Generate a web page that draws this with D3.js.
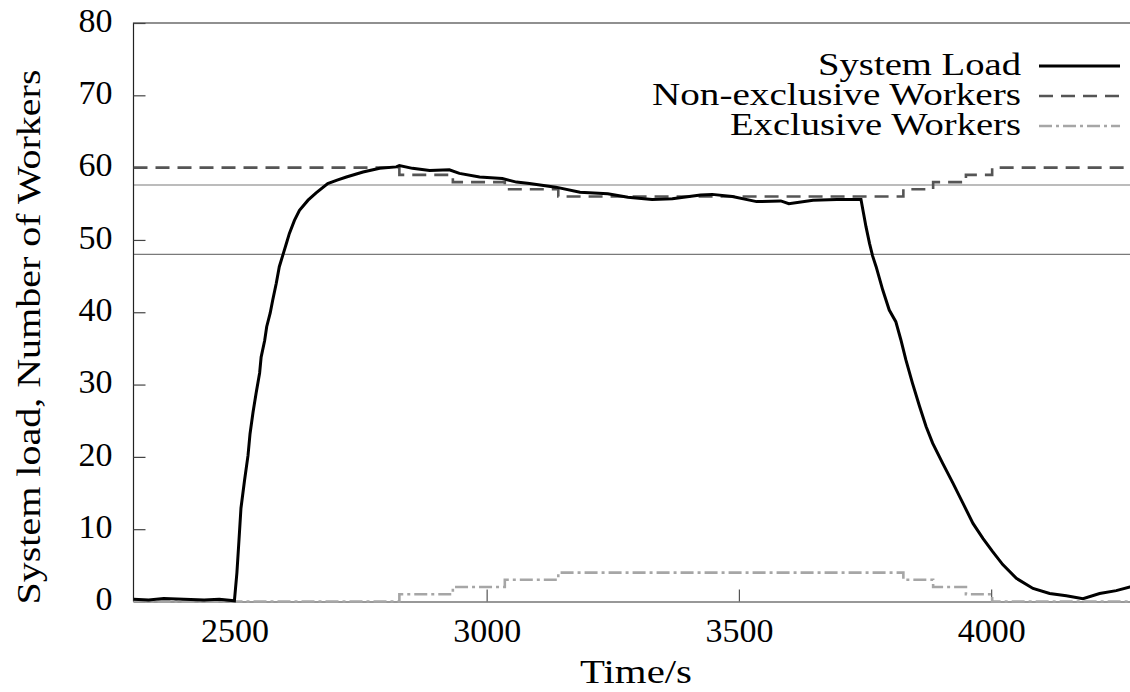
<!DOCTYPE html>
<html>
<head>
<meta charset="utf-8">
<title>System load</title>
<script src="https://cdnjs.cloudflare.com/ajax/libs/d3/7.8.5/d3.min.js"></script>
<style>
  body { margin: 0; background: #fff; }
  svg text { font-family: "Liberation Serif", "Times New Roman", Times, serif; fill: #000; }
</style>
</head>
<body>
<svg id="chart" width="1130" height="692"></svg>
<script>
// ---- data ----
var loadTime = [2300, 2330, 2360, 2400, 2440, 2470, 2500, 2505, 2509, 2513, 2520, 2527, 2531, 2537, 2543,
  2550, 2553, 2560, 2564, 2571, 2576, 2583, 2589, 2596, 2603, 2609, 2619, 2629, 2646, 2662, 2685, 2705,
  2722, 2755, 2788, 2821, 2827, 2853, 2887, 2926, 2946, 2986, 3031, 3059, 3085, 3137, 3185, 3240, 3280,
  3328, 3368, 3424, 3447, 3487, 3535, 3583, 3599, 3647, 3694, 3742, 3747, 3752, 3759, 3765, 3772, 3785,
  3798, 3811, 3821, 3831, 3844, 3858, 3871, 3884, 3904, 3924, 3944, 3964, 3984, 4003, 4023, 4050, 4083,
  4116, 4149, 4182, 4215, 4248, 4275, 4300];
var loadValue = [0.3, 0.2, 0.4, 0.3, 0.2, 0.3, 0.1, 4.0, 8.4, 12.9, 16.7, 20.2, 23.2, 26.2, 28.8,
  31.6, 33.8, 36.1, 38.0, 39.9, 41.7, 44.0, 46.3, 47.9, 49.5, 50.9, 52.7, 54.1, 55.5, 56.5, 57.8, 58.3,
  58.7, 59.4, 59.9, 60.1, 60.3, 59.9, 59.6, 59.7, 59.2, 58.7, 58.5, 58.0, 57.8, 57.3, 56.6, 56.4, 55.9,
  55.6, 55.7, 56.2, 56.3, 56.0, 55.3, 55.4, 55.0, 55.5, 55.6, 55.6, 53.7, 51.8, 49.5, 47.8, 46.3, 43.1,
  40.3, 38.7, 36.2, 33.4, 30.2, 27.0, 24.2, 21.9, 19.1, 16.4, 13.6, 10.8, 8.7, 6.9, 5.1, 3.2, 1.8,
  1.1, 0.8, 0.4, 1.1, 1.5, 2.0, 2.2];

var workerTime = [2300, 2827, 2933, 3036, 3142, 3826, 3885, 3950, 4002, 4300];
var nonExclusive = [60, 59, 58, 57, 56, 57, 58, 59, 60, 60];
var exclusive = [0, 1, 2, 3, 4, 3, 2, 1, 0, 0];

var refLevels = [48, 57.6];
var xTicks = [2500, 3000, 3500, 4000];
var yTicks = [0, 10, 20, 30, 40, 50, 60, 70, 80];

var legendNames = ["System Load", "Non-exclusive Workers", "Exclusive Workers"];
var legendWidths = [203, 369, 291];

// ---- layout ----
var svg = d3.select("#chart");
var mLeft = 133.5, mRight = 1142.5, mTop = 23, mBottom = 601.5;
var fs = 34;
var serif = "'Liberation Serif', 'Times New Roman', Times, serif";

var x = d3.scaleLinear().domain([2300, 4300]).range([mLeft, mRight]);
var y = d3.scaleLinear().domain([0, 80]).range([mBottom, mTop]);

svg.append("defs").append("clipPath").attr("id", "clip")
  .append("rect").attr("x", mLeft).attr("y", mTop - 2)
  .attr("width", mRight - mLeft).attr("height", mBottom - mTop + 4);

// reference lines
svg.append("g").selectAll("line").data(refLevels).enter().append("line")
  .attr("x1", mLeft).attr("x2", mRight)
  .attr("y1", d => y(d)).attr("y2", d => y(d))
  .attr("stroke", "#7a7a7a").attr("stroke-width", 1.2);

// frame
svg.append("path")
  .attr("d", "M" + mLeft + "," + mBottom + "V" + mTop + "H" + mRight)
  .attr("fill", "none").attr("stroke", "#222").attr("stroke-width", 1.2);

// axes
var yAxis = d3.axisLeft(y).tickValues(yTicks).tickSize(-12).tickSizeOuter(0).tickPadding(21);
var gy = svg.append("g").attr("transform", "translate(" + mLeft + ",0)").call(yAxis);
gy.attr("font-family", serif);
gy.select(".domain").remove();
gy.selectAll("line").attr("stroke", "#444").attr("stroke-width", 1.2);
gy.selectAll("text").attr("font-size", fs).attr("dy", "0.24em").attr("fill", "#000");

var xAxis = d3.axisBottom(x).tickValues(xTicks).tickFormat(d3.format("d"))
  .tickSize(-12).tickSizeOuter(0).tickPadding(16.5);
var gx = svg.append("g").attr("transform", "translate(0," + mBottom + ")").call(xAxis);
gx.attr("font-family", serif);
gx.select(".domain").attr("stroke", "#333").attr("stroke-width", 1.2);
gx.selectAll("line").attr("stroke", "#555").attr("stroke-width", 1.2);
gx.selectAll("text").attr("font-size", fs).attr("fill", "#000");

// series
var plot = svg.append("g").attr("clip-path", "url(#clip)");

var stepLine = d3.line()
  .x(d => x(d[0])).y(d => y(d[1]))
  .curve(d3.curveStepAfter);
var smoothLine = d3.line()
  .x(d => x(d[0])).y(d => y(d[1]));

var exclData = d3.zip(workerTime, exclusive);
var nonData = d3.zip(workerTime, nonExclusive);
var loadData = d3.zip(loadTime, loadValue);

plot.append("path").attr("d", stepLine(exclData))
  .attr("fill", "none").attr("stroke", "#a6a6a6").attr("stroke-width", 2.6)
  .attr("stroke-dasharray", "13,4,3,4");
plot.append("path").attr("d", stepLine(nonData))
  .attr("fill", "none").attr("stroke", "#555").attr("stroke-width", 2.6)
  .attr("stroke-dasharray", "14,8");
plot.append("path").attr("d", smoothLine(loadData))
  .attr("fill", "none").attr("stroke", "#000").attr("stroke-width", 3);

// legend
var legendStyles = [
  { color: "#000", dash: null, w: 3 },
  { color: "#555", dash: "14,8", w: 2.6 },
  { color: "#a6a6a6", dash: "13,4,3,4", w: 2.6 }
];
var lg = svg.append("g");
legendNames.forEach(function (name, i) {
  var base = 75 + i * 30;
  lg.append("text").attr("x", 1021).attr("y", base)
    .attr("text-anchor", "end").attr("font-size", 32)
    .attr("textLength", legendWidths[i]).attr("lengthAdjust", "spacingAndGlyphs")
    .text(name);
  lg.append("line").attr("x1", 1039).attr("x2", 1120)
    .attr("y1", base - 9).attr("y2", base - 9)
    .attr("stroke", legendStyles[i].color).attr("stroke-width", legendStyles[i].w)
    .attr("stroke-dasharray", legendStyles[i].dash);
});

// axis titles
svg.append("text").attr("x", 636).attr("y", 683)
  .attr("text-anchor", "middle").attr("font-size", fs)
  .attr("textLength", 112).attr("lengthAdjust", "spacingAndGlyphs")
  .text("Time/s");
svg.append("text").attr("transform", "translate(40,337) rotate(-90)")
  .attr("text-anchor", "middle").attr("font-size", fs)
  .attr("textLength", 535).attr("lengthAdjust", "spacingAndGlyphs")
  .text("System load, Number of Workers");
</script>
</body>
</html>
